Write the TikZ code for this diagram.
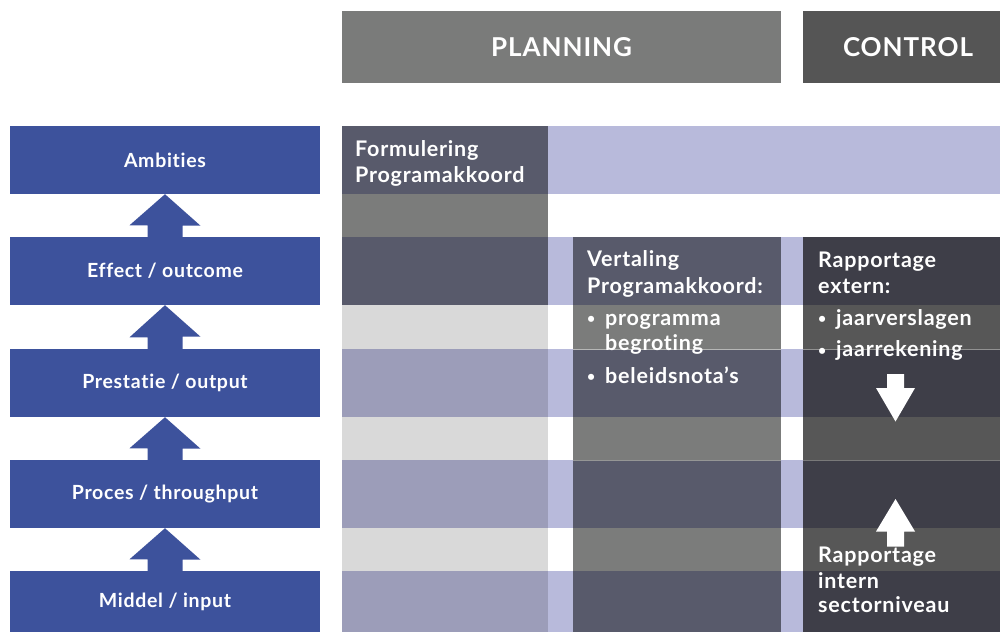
\documentclass[tikz,border=0pt]{standalone}
\usepackage{fontspec}
\setmainfont{Lato}[LetterSpace=3.6, Ligatures=CommonOff]
\definecolor{bluebox}{HTML}{3D529C}
\definecolor{hdrplan}{HTML}{7A7B7A}
\definecolor{hdrctrl}{HTML}{555555}
\definecolor{darkcell}{HTML}{585A6B}
\definecolor{lavender}{HTML}{B8BADB}
\definecolor{graylav}{HTML}{9C9DB9}
\definecolor{lightgray}{HTML}{D9D9D9}
\definecolor{midgray}{HTML}{7B7C7B}
\definecolor{darkest}{HTML}{3E3E48}
\definecolor{ctrlgap}{HTML}{575757}
\newcommand{\bul}{\makebox[18pt][l]{\raisebox{1.5pt}{\fontsize{14}{14}\selectfont •}}}
\tikzset{
  lvl/.style={fill=bluebox, text=white, minimum width=310pt, minimum height=68pt, inner sep=0pt, font=\fontsize{19.5}{22}\selectfont\bfseries},
  hdr/.style={text=white, inner sep=0pt, minimum height=72pt, font=\fontsize{26}{30}\selectfont\bfseries},
  celltxt/.style={text=white, inner sep=0pt, anchor=base west, font=\fontsize{21.5}{24}\selectfont\bfseries},
  uparrow/.style={fill=bluebox},
  wharrow/.style={fill=white},
  seam/.style={line width=0.7pt}
}
\begin{document}
\begin{tikzpicture}[x=1pt,y=-1pt]
\useasboundingbox (0,0) rectangle (1000,632);
% headers
\node[hdr, fill=hdrplan, minimum width=439pt] (planning) at (561.5,47) {PLANNING};
\node[hdr, fill=hdrctrl, minimum width=210pt] (control) at (908,47) {CONTROL};
% row 1 (Ambities)
\fill[darkcell] (342,126) rectangle (548,194);
\fill[lavender] (548,126) rectangle (1000,194);
% gap 1
\fill[midgray] (342,194) rectangle (548,237);
% row 2 (Effect)
\fill[darkcell] (342,237) rectangle (548,305);
\foreach \t/\b in {349/417, 460/528, 571/632} {
  \fill[graylav] (342,\t) rectangle (548,\b);
  \fill[darkest] (803,\t) rectangle (1000,\b);
}
\foreach \t/\b in {305/349, 417/460, 528/571} {
  \fill[lightgray] (342,\t) rectangle (548,\b);
  \fill[midgray] (573,\t) rectangle (781,\b);
  \fill[ctrlgap] (803,\t) rectangle (1000,\b);
}
\foreach \t/\b in {237/305, 349/417, 460/528, 571/632} {
  \fill[lavender] (548,\t) rectangle (573,\b);
  \fill[darkcell] (573,\t) rectangle (781,\b);
  \fill[lavender] (781,\t) rectangle (803,\b);
}
\fill[darkest] (803,237) rectangle (1000,305);
% faint seams
\draw[seam, color=white!45!midgray] (573,349) -- (781,349);
\draw[seam, color=white!35!ctrlgap] (803,349) -- (1000,349);
\draw[seam, color=white!20!midgray] (573,460) -- (781,460);
\draw[seam, color=white!20!ctrlgap] (803,460) -- (1000,460);
% left level boxes
\node[lvl] (amb) at (165,160) {Ambities};
\node[lvl] (eff) at (165,271) {Effect / outcome};
\node[lvl] (pre) at (165,383) {Prestatie / output};
\node[lvl] (pro) at (165,494) {Proces / throughput};
\node[lvl, minimum height=61pt] (mid) at (165,601.5) {Middel / input};
% arrows between level boxes
\foreach \lo/\hi in {eff/amb, pre/eff, pro/pre, mid/pro} {
  \fill[uparrow] (\hi.south) -- ++(35.5,31.5) -- ++(-18,0) |- ([xshift=17.5pt]\lo.north)
     -- ([xshift=-17.5pt]\lo.north) -- ++(0,-11.5) -- ++(-18,0) -- cycle;
}
% texts
\node[celltxt] (f1) at (355,156.7) {Formulering};
\node[celltxt] (f2) at (355,182) {Programakkoord};
\node[celltxt] (v1) at (587,266.7) {Vertaling};
\node[celltxt] (v2) at (587,293.3) {Programakkoord:};
\node[celltxt] (v3) at (587,325) {\bul programma};
\node[celltxt] (v4) at (605,350.7) {begroting};
\node[celltxt] (v5) at (587,383.3) {\bul beleidsnota’s};
\node[celltxt] (r1) at (818,267.7) {Rapportage};
\node[celltxt] (r2) at (818,293.3) {extern:};
\node[celltxt] (r3) at (818,325) {\bul jaarverslagen};
\node[celltxt] (r4) at (818,356.7) {\bul jaarrekening};
\node[celltxt] (i1) at (818,562.3) {Rapportage};
\node[celltxt] (i2) at (818,588.3) {intern};
\node[celltxt] (i3) at (818,612.7) {sectorniveau};
% white arrows in control column
\coordinate (dtop) at (895.5,374);
\coordinate (dtip) at (895.5,421.5);
\coordinate (utip) at (895.5,499);
\coordinate (ubot) at (895.5,546.5);
\fill[wharrow] (dtip) -- ++(-19.5,-33.5) -- ++(11,0) |- (dtop) -| ++(8.5,0) -- ++(0,14) -- ++(11,0) -- cycle;
\fill[wharrow] (utip) -- ++(-19.5,32.5) -- ++(11,0) |- (ubot) -| ++(8.5,0) -- ++(0,-15) -- ++(11,0) -- cycle;
\end{tikzpicture}
\end{document}
